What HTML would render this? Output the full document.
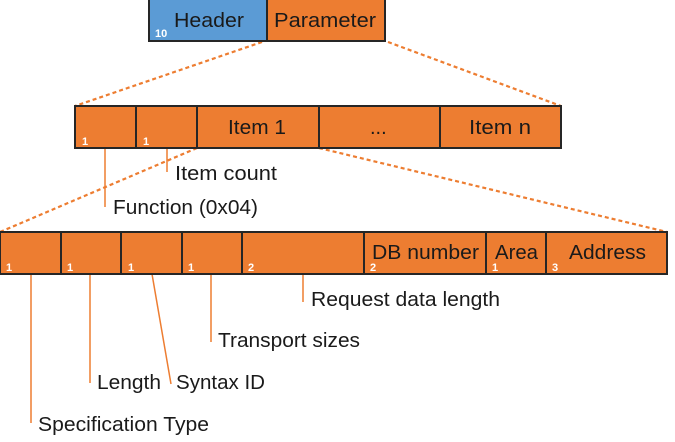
<!DOCTYPE html>
<html><head><meta charset="utf-8"><style>
html,body{margin:0;padding:0;background:#fff;width:675px;height:442px;overflow:hidden}
svg{display:block}
text{font-family:"Liberation Sans",sans-serif;fill:#1a1a1a}
.l{font-size:20px}
.n{font-size:11px;fill:#fff;font-weight:bold}
</style></head><body>
<svg width="675" height="442" viewBox="0 0 675 442" xmlns="http://www.w3.org/2000/svg">
<g stroke="#ed7d31" stroke-width="2.2" stroke-dasharray="4,3" fill="none">
<line x1="262" y1="42" x2="75" y2="106"/>
<line x1="388" y1="42" x2="561" y2="106"/>
<line x1="197" y1="148" x2="0" y2="232"/>
<line x1="319" y1="148" x2="667" y2="232"/>
</g>
<g stroke="#ed7d31" stroke-width="1.5" fill="none">
<line x1="105" y1="148" x2="105" y2="207"/>
<line x1="167" y1="148" x2="167" y2="172"/>
<line x1="31" y1="274" x2="31" y2="423"/>
<line x1="90" y1="274" x2="90" y2="383"/>
<line x1="152" y1="274" x2="171" y2="384"/>
<line x1="211" y1="274" x2="211" y2="342"/>
<line x1="303" y1="274" x2="303" y2="302"/>
</g>
<g stroke="#262626" stroke-width="2">
<rect x="149" y="-1" width="118" height="42" fill="#5b9bd5"/>
<rect x="267" y="-1" width="118" height="42" fill="#ed7d31"/>
<rect x="75" y="106" width="61" height="42" fill="#ed7d31"/>
<rect x="136" y="106" width="61" height="42" fill="#ed7d31"/>
<rect x="197" y="106" width="122" height="42" fill="#ed7d31"/>
<rect x="319" y="106" width="121" height="42" fill="#ed7d31"/>
<rect x="440" y="106" width="121" height="42" fill="#ed7d31"/>
<rect x="0" y="232" width="61" height="42" fill="#ed7d31"/>
<rect x="61" y="232" width="60" height="42" fill="#ed7d31"/>
<rect x="121" y="232" width="61" height="42" fill="#ed7d31"/>
<rect x="182" y="232" width="60" height="42" fill="#ed7d31"/>
<rect x="242" y="232" width="122" height="42" fill="#ed7d31"/>
<rect x="364" y="232" width="122" height="42" fill="#ed7d31"/>
<rect x="486" y="232" width="60" height="42" fill="#ed7d31"/>
<rect x="546" y="232" width="121" height="42" fill="#ed7d31"/>
</g>
<g lengthAdjust="spacingAndGlyphs">
<text class="l" x="174" y="27" textLength="70" lengthAdjust="spacingAndGlyphs">Header</text>
<text class="l" x="274" y="27" textLength="102" lengthAdjust="spacingAndGlyphs">Parameter</text>
<text class="n" x="155" y="37">10</text>
<text class="l" x="228" y="134" textLength="58" lengthAdjust="spacingAndGlyphs">Item 1</text>
<text class="l" x="370" y="134">...</text>
<text class="l" x="469" y="134" textLength="62" lengthAdjust="spacingAndGlyphs">Item n</text>
<text class="n" x="82" y="145">1</text>
<text class="n" x="143" y="145">1</text>
<text class="l" x="372" y="259" textLength="107" lengthAdjust="spacingAndGlyphs">DB number</text>
<text class="l" x="495" y="259" textLength="43" lengthAdjust="spacingAndGlyphs">Area</text>
<text class="l" x="569" y="259" textLength="77" lengthAdjust="spacingAndGlyphs">Address</text>
<text class="n" x="6" y="271">1</text>
<text class="n" x="67" y="271">1</text>
<text class="n" x="128" y="271">1</text>
<text class="n" x="188" y="271">1</text>
<text class="n" x="248" y="271">2</text>
<text class="n" x="370" y="271">2</text>
<text class="n" x="492" y="271">1</text>
<text class="n" x="552" y="271">3</text>
<text class="l" x="175" y="180" textLength="102" lengthAdjust="spacingAndGlyphs">Item count</text>
<text class="l" x="113" y="214" textLength="145" lengthAdjust="spacingAndGlyphs">Function (0x04)</text>
<text class="l" x="311" y="306" textLength="189" lengthAdjust="spacingAndGlyphs">Request data length</text>
<text class="l" x="218" y="347" textLength="142" lengthAdjust="spacingAndGlyphs">Transport sizes</text>
<text class="l" x="97" y="389" textLength="64" lengthAdjust="spacingAndGlyphs">Length</text>
<text class="l" x="176" y="389" textLength="89" lengthAdjust="spacingAndGlyphs">Syntax ID</text>
<text class="l" x="38" y="431" textLength="171" lengthAdjust="spacingAndGlyphs">Specification Type</text>
</g>
</svg>
</body></html>
